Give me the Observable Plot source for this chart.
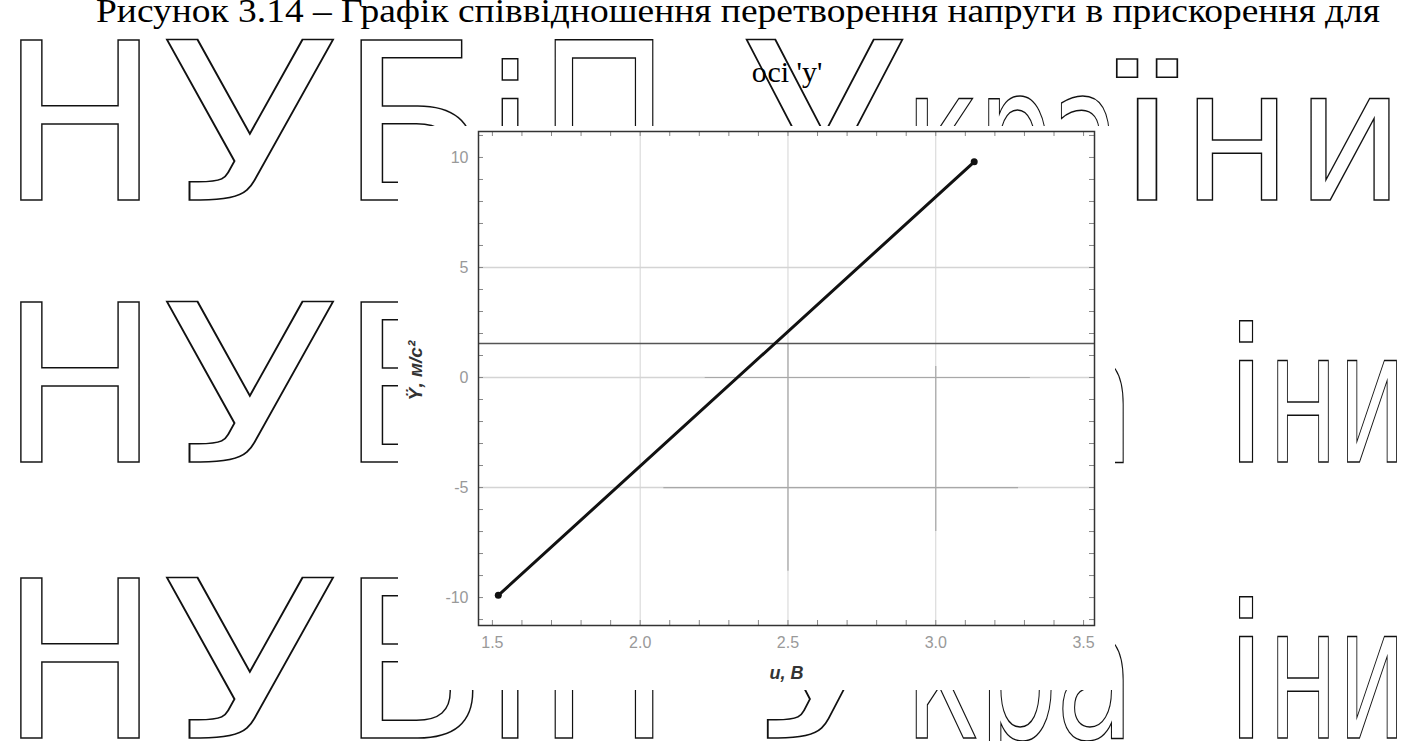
<!DOCTYPE html>
<html>
<head>
<meta charset="utf-8">
<script src="https://cdn.jsdelivr.net/npm/d3@7"></script>
<script src="https://cdn.jsdelivr.net/npm/@observablehq/plot@0.6"></script>
<style>
  html, body { margin: 0; padding: 0; background: #fff; }
  body { width: 1407px; height: 741px; overflow: hidden; position: relative; }
  #wm { position: absolute; left: 0; top: 0; }
  #chart { position: absolute; left: 380px; top: 100px; }
  #chart svg { overflow: visible; }
</style>
</head>
<body>
<svg id="wm" width="1407" height="741" xmlns="http://www.w3.org/2000/svg"></svg>
<div id="chart"></div>
<script>
// ---- data ----
const voltage = [1.52, 3.13];          // u, B
const accel = [-9.9, 9.8];             // Ÿ, м/с²
const levelLine = [1.55];              // horizontal reference line
const xTicks = [1.5, 2.0, 2.5, 3.0, 3.5];
const yTicks = [-10, -5, 0, 5, 10];
const xGrid = [2.0, 2.5, 3.0];
const yGrid = [-5, 0, 5];
const xMinor = [1.5,1.6,1.7,1.8,1.9,2.0,2.1,2.2,2.3,2.4,2.5,2.6,2.7,2.8,2.9,3.0,3.1,3.2,3.3,3.4,3.5];
const yMinor = [-11,-10,-9,-8,-7,-6,-5,-4,-3,-2,-1,0,1,2,3,4,5,6,7,8,9,10,11];
// faint darker grid fragments seen in the scan
const hFrag = [{y: 0, x1: 2.22, x2: 3.32}, {y: -5, x1: 2.08, x2: 3.28}];
const vFrag = [{x: 2.5, y1: 1.55, y2: -8.8}, {x: 3.0, y1: 0.5, y2: -7.0}];

const titleLine1 = "Рисунок 3.14 – Графік співвідношення перетворення напруги в прискорення для";
const titleLine2 = "осі 'y'";
const xLabel = "u, B";
const yLabel = "Ÿ, м/с²";

// watermark "НУБіП України" (page decoration), letter / left / width / capital?
const wmRowTop = [
  ["Н",0,160,1],["У",162,176,1],["Б",340,148,1],["і",486,48,0],["П",538,132,1],
  ["У",742,165,1],["к",905,75,0],["р",978,75,0],["а",1050,70,0],["ї",1118,58,0],["н",1182,110,0],["и",1296,108,0]
];
const wmRowLow = [
  ["Н",0,160,1],["У",162,176,1],["Б",340,148,1],["і",486,48,0],["П",538,132,1],
  ["У",742,165,1],["к",905,75,0],["р",978,80,0],["а",1055,80,0],["і",1226,40,0],["н",1268,70,0],["и",1338,68,0]
];
const wmRows = [[200, wmRowTop], [462, wmRowLow], [738, wmRowLow]];

// ---- background page (watermark + caption) ----
const wm = d3.select("#wm");
wmRows.forEach(([base, letters]) => {
  letters.forEach(([ch, x, w, cap]) => {
    wm.append("text")
      .attr("x", x).attr("y", base)
      .attr("textLength", w).attr("lengthAdjust", "spacingAndGlyphs")
      .attr("font-family", "DejaVu Sans").attr("font-size", cap ? 220 : 185)
      .attr("fill", "none").attr("stroke", "#111").attr("stroke-width", 1.5)
      .text(ch);
  });
});
wm.append("rect").attr("x", 398).attr("y", 126).attr("width", 717).attr("height", 564).attr("fill", "#fff");
wm.append("text").attr("x", 96).attr("y", 22)
  .attr("textLength", 1284).attr("lengthAdjust", "spacingAndGlyphs")
  .attr("font-family", "Liberation Serif").attr("font-size", 33).attr("fill", "#000")
  .text(titleLine1);
wm.append("text").attr("x", 787).attr("y", 82).attr("text-anchor", "middle")
  .attr("font-family", "Liberation Serif").attr("font-size", 30).attr("fill", "#000")
  .text(titleLine2);

// ---- chart ----
const data = voltage.map((u, i) => ({u, a: accel[i]}));

const chart = Plot.plot({
  width: 740,
  height: 600,
  marginLeft: 98,
  marginRight: 26,
  marginTop: 31,
  marginBottom: 75,
  x: {domain: [1.453, 3.537]},
  y: {domain: [-11.27, 11.18]},
  style: {background: "transparent", fontFamily: "Liberation Sans, Arial, sans-serif", fontSize: "16px"},
  marks: [
    Plot.ruleX(xGrid, {stroke: "#d4d4d4", strokeWidth: 1}),
    Plot.ruleY(yGrid, {stroke: "#d4d4d4", strokeWidth: 1.5}),
    Plot.ruleY(hFrag, {y: "y", x1: "x1", x2: "x2", stroke: "#a8a8a8", strokeWidth: 1.2}),
    Plot.ruleX(vFrag, {x: "x", y1: "y1", y2: "y2", stroke: "#a8a8a8", strokeWidth: 1.2}),
    Plot.ruleY(levelLine, {stroke: "#555", strokeWidth: 1.5}),
    Plot.tickX(xMinor, {x: d => d, insetTop: 489, stroke: "#888"}),
    Plot.tickX(xMinor, {x: d => d, insetBottom: 489, stroke: "#888"}),
    Plot.tickY(yMinor, {y: d => d, insetRight: 611, stroke: "#888"}),
    Plot.tickY(yMinor, {y: d => d, insetLeft: 611, stroke: "#888"}),
    Plot.line(data, {x: "u", y: "a", stroke: "#111", strokeWidth: 3}),
    Plot.dot(data, {x: "u", y: "a", r: 3.5, fill: "#111"}),
    Plot.frame({stroke: "#333", strokeWidth: 1.5}),
    Plot.axisX({ticks: xTicks, tickSize: 0, tickPadding: 11, tickFormat: d3.format(".1f"), label: null, fill: "#999"}),
    Plot.axisY({ticks: yTicks, tickSize: 0, tickPadding: 10, tickFormat: d => String(d), label: null, fill: "#999"}),
    Plot.text([xLabel], {frameAnchor: "bottom", dy: 53, fontWeight: "bold", fontStyle: "italic", fontSize: 18, fill: "#333"}),
    Plot.text([yLabel], {frameAnchor: "left", textAnchor: "middle", dx: -63, dy: -8, rotate: -90, fontWeight: "bold", fontStyle: "italic", fontSize: 19, fill: "#333"})
  ]
});
document.getElementById("chart").appendChild(chart);
</script>
</body>
</html>
